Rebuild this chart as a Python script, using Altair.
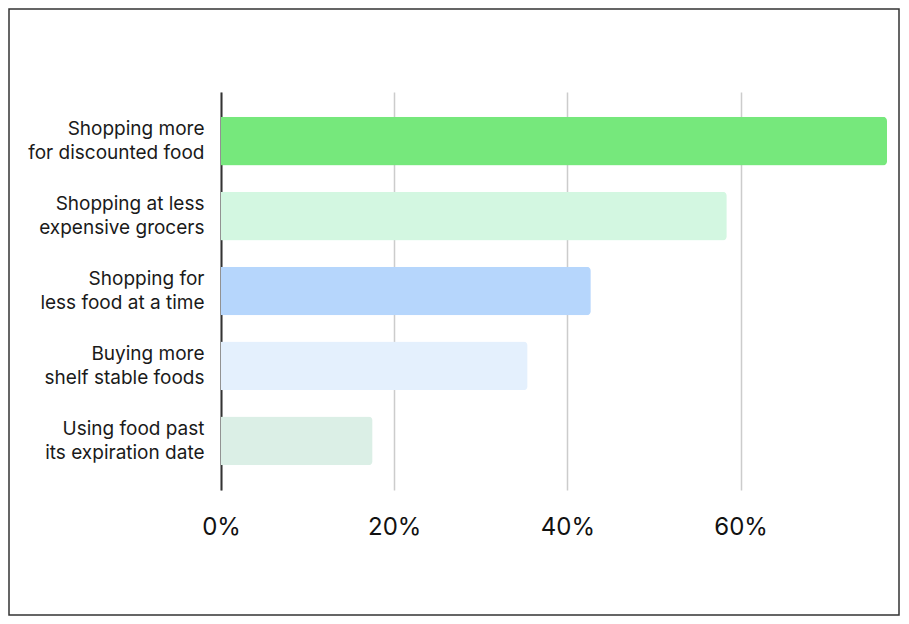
import altair as alt
import pandas as pd

SP = "\u2002"
labels = [
    "Shopping more|for discounted food",
    "Shopping at less" + SP + "|expensive grocers",
    "Shopping for" + SP + "|less food at a time",
    "Buying more" + SP + "|shelf stable foods",
    "Using food past" + SP + "|its expiration date",
]
values = [76.9, 58.4, 42.7, 35.4, 17.5]
colors = ["#76E87C", "#D3F7E1", "#B6D6FC", "#E4F0FD", "#DBEFE6"]
x_ticks = [0, 20, 40, 60]

df = pd.DataFrame({"label": labels, "value": values, "color": colors})

FONT = "Inter"

bars = alt.Chart(df).mark_bar(cornerRadiusEnd=4).encode(
    y=alt.Y(
        "label:N",
        sort=labels,
        scale=alt.Scale(paddingInner=0.35, paddingOuter=0.33),
        axis=alt.Axis(
            title=None,
            labelExpr="split(datum.label, '|')",
            labelFontSize=19,
            labelLineHeight=24,
            labelOffset=-12,
            labelColor="#1a1a1a",
            labelFont=FONT,
            labelPadding=17,
            ticks=False,
            domain=True,
            domainColor="#333333",
            domainWidth=2,
            grid=False,
            labelLimit=300,
        ),
    ),
    x=alt.X(
        "value:Q",
        scale=alt.Scale(domain=[0, 76.9], nice=False),
        axis=alt.Axis(
            title=None,
            values=x_ticks,
            labelExpr="datum.value + '%'",
            labelFontSize=24,
            labelColor="#111111",
            labelFont=FONT,
            labelPadding=25,
            labelFlush=False,
            ticks=False,
            domain=False,
            grid=True,
            gridColor="#CCCCCC",
            gridWidth=1.5,
        ),
    ),
    color=alt.Color("color:N", scale=None, legend=None),
)

border = alt.Chart(alt.Data(values=[{}])).mark_rect(
    fillOpacity=0, stroke="#333333", strokeWidth=1.5
).encode(
    x=alt.value(-212),
    x2=alt.value(678),
    y=alt.value(-83),
    y2=alt.value(523),
)

chart = alt.layer(border, bars).properties(
    width=666,
    height=398,
    padding={"left": 213, "top": 84, "right": 14, "bottom": 126},
    autosize=alt.AutoSizeParams(type="none"),
).configure_view(stroke=None)

chart.save("out.html", embed_options={"renderer": "svg", "actions": False})
